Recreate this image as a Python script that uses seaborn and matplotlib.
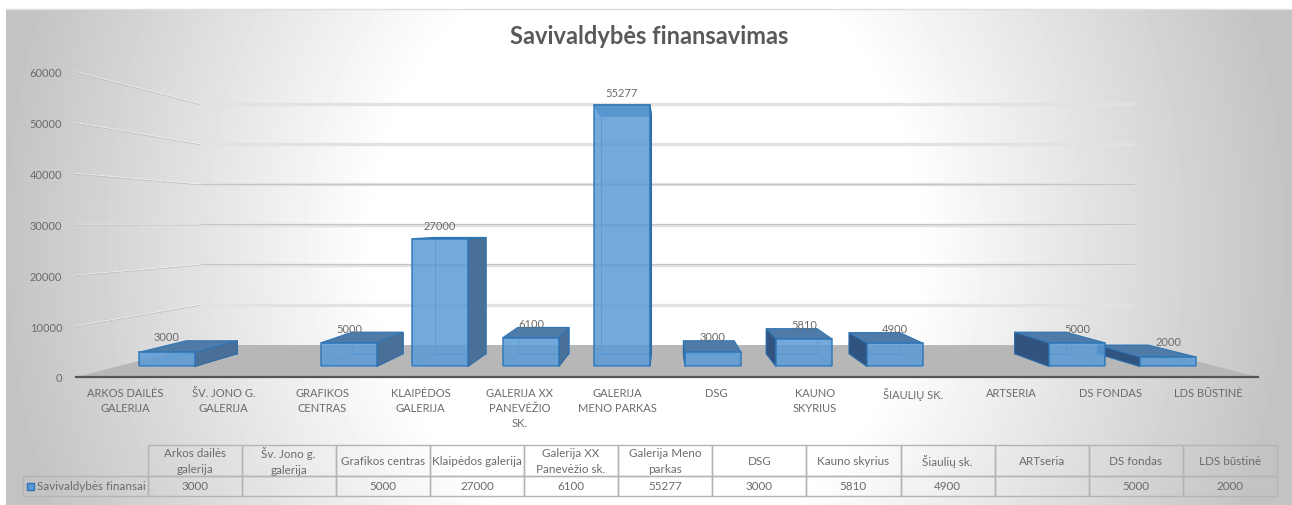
import numpy as np
import pandas as pd
import seaborn as sns
import matplotlib.pyplot as plt
from matplotlib.patches import Polygon, Rectangle

# donnees du graphique
categories = ["Arkos dailės\ngalerija", "Šv. Jono g.\ngalerija", "Grafikos centras", "Klaipėdos galerija",
              "Galerija XX\nPanevėžio sk.", "Galerija Meno\nparkas", "DSG", "Kauno skyrius",
              "Šiaulių sk.", "ARTseria", "DS fondas", "LDS būstinė"]
axis_labels = ["ARKOS DAILĖS\nGALERIJA", "ŠV. JONO G.\nGALERIJA", "GRAFIKOS\nCENTRAS", "KLAIPĖDOS\nGALERIJA",
               "GALERIJA XX\nPANEVĖŽIO\nSK.", "GALERIJA\nMENO PARKAS", "DSG", "KAUNO\nSKYRIUS",
               "ŠIAULIŲ SK.", "ARTSERIA", "DS FONDAS", "LDS BŪSTINĖ"]
values = [3000, None, 5000, 27000, 6100, 55277, 3000, 5810, 4900, None, 5000, 2000]
y_ticks = [0, 10000, 20000, 30000, 40000, 50000, 60000]
series_name = "Savivaldybės finansai"
title = "Savivaldybės finansavimas"

W, H = 1292, 506
TXT = "#6b6b6b"

sns.set_theme(style="white")
plt.rcParams["font.family"] = ["Lato", "DejaVu Sans"]


def add_axes_px(x0, y0, x1, y1, **kw):
    # y0 = haut, y1 = bas, en pixels image
    return fig.add_axes([x0 / W, 1 - y1 / H, (x1 - x0) / W, (y1 - y0) / H], **kw)


fig = plt.figure(figsize=(W / 100, H / 100), dpi=100, facecolor="white")

# perspective : point de fuite et echelles des plans
VX, VY = 667, 225.7
S_BACK, S_BAR, S_BAR_BACK = 0.79, 0.931, 0.847
FRONT = (76, 73, 1258, 378)


def plane(s):
    return (VX + (FRONT[0] - VX) * s, VY + (FRONT[1] - VY) * s,
            VX + (FRONT[2] - VX) * s, VY + (FRONT[3] - VY) * s)


# fond : degrade, murs, sol (coordonnees pixels)
bg = add_axes_px(0, 0, W, H, zorder=0)
bg.axis("off")
yy, xx = np.mgrid[10:H, 6:W]
t = np.sqrt(((xx - 645) / 640) ** 2 + (0.35 * (yy - 240) / 250) ** 2)
g = 255 - (255 - 196) * np.clip((t - 0.42) / 0.58, 0, 1)
bg.imshow(g, cmap="gray", vmin=0, vmax=255, extent=(6, W, H, 10), aspect="auto", zorder=0)
bg.plot([6, W], [10, 10], color="#dedede", lw=1, zorder=1)
bg.set_xlim(0, W)
bg.set_ylim(H, 0)

fx0, fy0, fx1, fy1 = FRONT
bx0, by0, bx1, by1 = plane(S_BACK)
bg.add_patch(Polygon([(fx0, fy1), (bx0, by1), (bx1, by1), (fx1, fy1)], closed=True,
                     facecolor="#b7b7b7", edgecolor="none", zorder=2))
for v in y_ticks[1:]:
    yf = fy1 + (fy0 - fy1) * v / y_ticks[-1]
    yb = by1 + (by0 - by1) * v / y_ticks[-1]
    dark = v in (20000, 30000, 40000)
    bg.plot([bx0, bx1], [yb, yb], color="#e2e2e2", lw=2.4, zorder=2, solid_capstyle="butt")
    if dark:
        bg.plot([bx0, bx1], [yb - 0.6, yb - 0.6], color="#c4c4c4", lw=0.8, zorder=2)
    bg.plot([fx0, bx0], [yf, yb], color="#ffffff", lw=1, alpha=0.6, zorder=2)
    bg.plot([fx0, bx0], [yf + 0.5, yb + 0.5], color="#a8a8a8", lw=0.6, ls=(0, (2, 1)), zorder=2)

# plan des barres : barplot seaborn sur l'axe categoriel
b = plane(S_BAR)
ax_bar = add_axes_px(b[0], b[1], b[2], b[3], zorder=2, facecolor="none")
df = pd.DataFrame({"cat": categories, "val": values})
sns.barplot(data=df, x="cat", y="val", order=categories, width=0.615, errorbar=None,
            color="#5b9bd5", saturation=1, alpha=0.85, edgecolor="#2e75b6", linewidth=1.2, ax=ax_bar)
ax_bar.set_xlim(-0.55, 11.54)
ax_bar.set_ylim(y_ticks[0], y_ticks[-1])
ax_bar.axis("off")


def to_px(x, v, s=S_BAR):
    # point du plan des barres -> pixels image, ramene au plan s
    px, py = ax_bar.transData.transform((x, v))
    py = H - py
    return (VX + (px - VX) * s / S_BAR, VY + (py - VY) * s / S_BAR)


half = 0.615 / 2
for i, v in sorted(enumerate(values), key=lambda iv: abs(iv[0] - 5.5), reverse=True):
    if v is None:
        continue
    x0, x1 = i - half, i + half
    s0, s1 = S_BAR, S_BAR_BACK
    # aretes arriere et fond, visibles a travers la face avant
    back = [to_px(x0, 0, s1), to_px(x1, 0, s1), to_px(x1, v, s1), to_px(x0, v, s1)]
    bg.add_patch(Polygon(back, closed=True, facecolor="none", edgecolor="#4f8fcb", lw=0.6, zorder=3))
    floor = [to_px(x0, 0, s0), to_px(x1, 0, s0), to_px(x1, 0, s1), to_px(x0, 0, s1)]
    bg.add_patch(Polygon(floor, closed=True, facecolor="none", edgecolor="#4f8fcb", lw=0.6, zorder=3))
    right_side = i < 5.5
    xs = x1 if right_side else x0
    side = [to_px(xs, 0, s0), to_px(xs, 0, s1), to_px(xs, v, s1), to_px(xs, v, s0)]
    bg.add_patch(Polygon(side, closed=True, facecolor="#4a7098" if right_side else "#30547f",
                         edgecolor="#2e6ca8", lw=0.8, zorder=4))
    top = [to_px(x0, v, s0), to_px(x1, v, s0), to_px(x1, v, s1), to_px(x0, v, s1)]
    bg.add_patch(Polygon(top, closed=True, facecolor="#4f7ba8", edgecolor="#2e75b6", lw=0.8, zorder=4))
    # etiquette de valeur
    ty = min(to_px(x0, v, s0)[1], to_px(x0, v, s1)[1])
    off = 12 if v > 20000 else 4
    ax_bar.annotate(str(v), xy=(i, ax_bar.transData.inverted().transform((0, H - ty))[1]),
                    xytext=(0, off * 0.72), textcoords="offset points", ha="center", va="center",
                    color=TXT, fontsize=8, annotation_clip=False, zorder=6)

# plan avant : axes, graduations
ax = add_axes_px(fx0, fy0, fx1, fy1, zorder=3, facecolor="none")
ax.set_xlim(-0.5, 11.5)
ax.set_ylim(y_ticks[0], y_ticks[-1])
ax.set_yticks(y_ticks)
ax.set_xticks(range(len(axis_labels)))
ax.set_xticklabels(axis_labels, linespacing=1.45, va="top")
ax.tick_params(axis="both", length=0, labelsize=8, labelcolor=TXT)
ax.tick_params(axis="x", pad=7)
ax.tick_params(axis="y", pad=10)
sns.despine(ax=ax, left=True, top=True, right=True)
ax.spines["bottom"].set_color("#555555")
ax.spines["bottom"].set_linewidth(1.6)

fig.text(649 / W, 1 - 36 / H, title, ha="center", va="center", fontsize=17,
         fontweight="bold", color="#595959")

# table de donnees
ax_table = add_axes_px(23, 446, 1277, 497, zorder=3)
ax_table.axis("off")
first_w = 124.5 / 1254
col_w = (1 - first_w) / 12
cell_text = [[""] + categories,
             [series_name] + ["" if v is None else str(v) for v in values]]
tbl = ax_table.table(cellText=cell_text, cellLoc="center", bbox=[0, 0, 1, 1],
                     colWidths=[first_w] + [col_w] * 12)
tbl.auto_set_font_size(False)
for (r, c), cell in tbl.get_celld().items():
    cell.set_height(31 / 51 if r == 0 else 20 / 51)
    cell.set_edgecolor("#b4b4b4")
    cell.set_linewidth(1)
    cell.set_facecolor("none")
    cell.get_text().set_fontsize(8.4)
    cell.get_text().set_color(TXT)
    cell.get_text().set_linespacing(1.5)
    if r == 0 and c == 0:
        cell.visible_edges = ""
    if r == 1 and c == 0:
        cell.get_text().set_ha("right")
        cell.PAD = 0.012
bg.add_patch(Rectangle((27, 483.5), 7, 7, facecolor="#5b9bd5", edgecolor="#2e75b6", lw=1, zorder=5))

fig.savefig("out.png", dpi=100)
